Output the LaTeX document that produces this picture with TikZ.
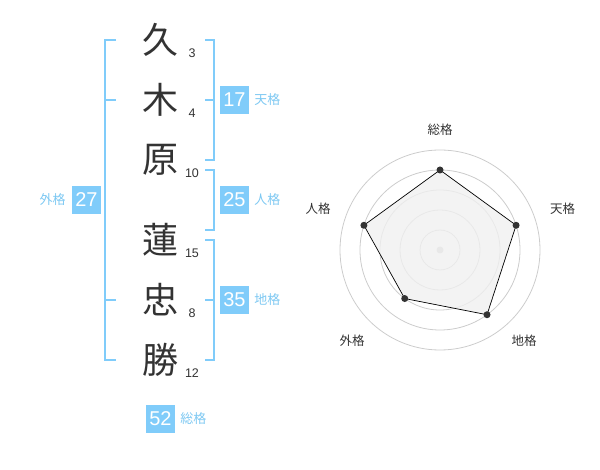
\documentclass[tikz,border=0pt]{standalone}
\usepackage{fontspec}
\setmainfont{Liberation Sans}
\newfontfamily\jpfont{Noto Sans CJK JP}
\usetikzlibrary{positioning}
\definecolor{name-blue}{RGB}{128, 204, 250}
\definecolor{label-blue}{RGB}{125, 200, 242}
\definecolor{ink-gray}{RGB}{51, 51, 51}
\definecolor{ring-gray}{RGB}{204, 204, 204}
\definecolor{area-gray}{RGB}{240, 240, 240}
\tikzset{
  kanji/.style={text=ink-gray, font=\jpfont\fontsize{36}{36}\selectfont, inner sep=0pt},
  strokes/.style={text=ink-gray, font=\fontsize{12.5}{12.5}\selectfont, inner sep=0pt, anchor=base},
  bracket/.style={draw=name-blue, line width=2pt},
  kakubox/.style={fill=name-blue, text=white, font=\fontsize{20}{20}\selectfont, minimum width=29pt, minimum height=28pt, inner sep=0pt},
  kakulabel/.style={text=label-blue, font=\jpfont\fontsize{13}{13}\selectfont, inner sep=0pt},
  axislabel/.style={text=ink-gray, font=\jpfont\fontsize{12.5}{12.5}\selectfont, inner sep=0pt}
}

\begin{document}
\begin{tikzpicture}[x=1pt, y=-1pt]
\useasboundingbox (0,0) rectangle (600,470);
\node[kanji] (k1) at (160,40) {久};
\node[kanji] (k2) at (160,100) {木};
\node[kanji] (k3) at (160,160) {原};
\node[kanji] (k4) at (160,240) {蓮};
\node[kanji] (k5) at (160,300) {忠};
\node[kanji] (k6) at (160,360) {勝};
\node[strokes] (s1) at (192,57.5) {3};
\node[strokes] (s2) at (192,117.5) {4};
\node[strokes] (s3) at (192,177.5) {10};
\node[strokes] (s4) at (192,257.5) {15};
\node[strokes] (s5) at (192,317.5) {8};
\node[strokes] (s6) at (192,377.5) {12};
\draw[bracket] (116,40) -- (105,40) -- (105,360) -- (116,360);
\draw[bracket] (105,100) -- (116,100);
\draw[bracket] (105,300) -- (116,300);
\draw[bracket] (205,40) -- (214,40) -- (214,160) -- (205,160);
\draw[bracket] (205,100) -- (214,100);
\draw[bracket] (205,170) -- (214,170) -- (214,230) -- (205,230);
\draw[bracket] (205,240) -- (214,240) -- (214,360) -- (205,360);
\draw[bracket] (205,300) -- (214,300);
\node[kakubox] (ten) at (234.5,100) {17};
\node[kakubox] (jin) at (234.5,200) {25};
\node[kakubox] (chi) at (234.5,300) {35};
\node[kakubox] (gai) at (86.5,200) {27};
\node[kakubox] (sou) at (160.5,419) {52};
\node[kakulabel, right=5pt of ten] (ten-l) {天格};
\node[kakulabel, right=5pt of jin] (jin-l) {人格};
\node[kakulabel, right=5pt of chi] (chi-l) {地格};
\node[kakulabel, left=6pt of gai] (gai-l) {外格};
\node[kakulabel, right=5pt of sou] (sou-l) {総格};
\begin{scope}[shift={(440,250)}]
\foreach \r in {20,40,60,80,100}
  \draw[ring-gray, line width=0.8pt] (0,0) circle[radius=\r pt];
\fill[ring-gray] (0,0) circle[radius=3.5pt];
\coordinate (p-sou) at (-90:80);
\coordinate (p-ten) at (-18:80);
\coordinate (p-chi) at (54:80);
\coordinate (p-gai) at (126:60);
\coordinate (p-jin) at (-162:80);
\filldraw[fill=area-gray, fill opacity=0.8, draw=black, line width=0.7pt] (p-sou) -- (p-ten) -- (p-chi) -- (p-gai) -- (p-jin) -- cycle;
\foreach \p in {sou,ten,chi,gai,jin}
  \fill[ink-gray] (p-\p) circle[radius=3.5pt];
\node[axislabel] (a-sou) at (0,-120) {総格};
\node[axislabel] (a-ten) at (122.5,-41) {天格};
\node[axislabel] (a-chi) at (84,91) {地格};
\node[axislabel] (a-gai) at (-88,91) {外格};
\node[axislabel] (a-jin) at (-122,-41) {人格};
\end{scope}
\end{tikzpicture}
\end{document}
